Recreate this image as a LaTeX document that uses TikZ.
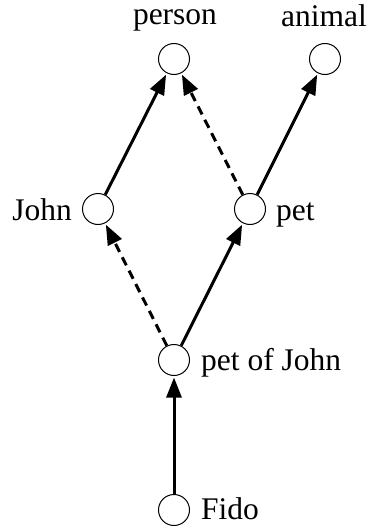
\documentclass[tikz,border=0pt]{standalone}
\usepackage{fontspec}
\setmainfont{Liberation Serif}
\usetikzlibrary{arrows.meta}
\begin{document}
\begin{tikzpicture}[x=1pt,y=-1pt,
  concept/.style={circle,draw,line width=1pt,minimum size=31pt,inner sep=0pt},
  lbl/.style={font=\fontsize{31.5}{36}\selectfont,inner sep=0pt},
  isa/.style={line width=3pt,-{Triangle[length=20pt,width=15pt]},shorten >=1.5pt},
  rel/.style={isa,dash pattern=on 9pt off 6pt}]
\useasboundingbox (0,0) rectangle (368,527);
\node[concept] (person) at (174,59) {};
\node[concept] (animal) at (325,59) {};
\node[concept] (john) at (98,209) {};
\node[concept] (pet) at (250,209) {};
\node[concept] (poj) at (174,360) {};
\node[concept] (fido) at (174,510) {};
\node[lbl,anchor=base] (tperson) at (175,25) {person};
\node[lbl,anchor=base] (tanimal) at (324,27) {animal};
\node[lbl,anchor=base east] (tjohn) at (72,220) {John};
\node[lbl,anchor=base west] (tpet) at (276,220) {pet};
\node[lbl,anchor=base west] (tpoj) at (201,370) {pet of John};
\node[lbl,anchor=base west] (tfido) at (201,519) {Fido};
\draw[isa] (john) -- (person);
\draw[rel] (pet) -- (person);
\draw[isa] (pet) -- (animal);
\draw[rel] (poj) -- (john);
\draw[isa] (poj) -- (pet);
\draw[isa] (fido) -- (poj);
\end{tikzpicture}
\end{document}
